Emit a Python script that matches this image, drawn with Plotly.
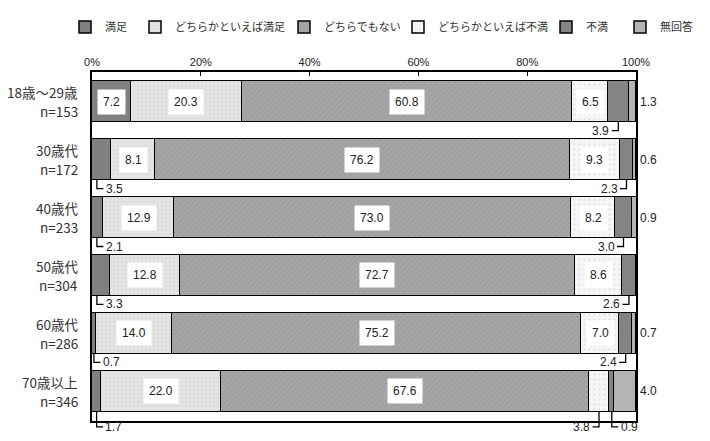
import plotly.graph_objects as go

ages = ["18歳～29歳", "30歳代", "40歳代", "50歳代", "60歳代", "70歳以上"]
counts = [153, 172, 233, 304, 286, 346]
series_names = ["満足", "どちらかといえば満足", "どちらでもない", "どちらかといえば不満", "不満", "無回答"]

satisfied = [7.2, 3.5, 2.1, 3.3, 0.7, 1.7]
somewhat_satisfied = [20.3, 8.1, 12.9, 12.8, 14.0, 22.0]
neutral = [60.8, 76.2, 73.0, 72.7, 75.2, 67.6]
somewhat_dissatisfied = [6.5, 9.3, 8.2, 8.6, 7.0, 3.8]
dissatisfied = [3.9, 2.3, 3.0, 2.6, 2.4, 0.9]
no_answer = [1.3, 0.6, 0.9, 0.0, 0.7, 4.0]

x_ticks = [0, 20, 40, 60, 80, 100]

values = [satisfied, somewhat_satisfied, neutral, somewhat_dissatisfied, dissatisfied, no_answer]

styles = [
    dict(color="#808080"),
    dict(color="#e4e4e4", pattern=dict(shape=".", fgcolor="#bdbdbd", size=4, solidity=0.15)),
    dict(color="#a6a6a6", pattern=dict(shape="/", fgcolor="#8e8e8e", size=4, solidity=0.25)),
    dict(color="#f6f6f6", pattern=dict(shape=".", fgcolor="#cccccc", size=5, solidity=0.15)),
    dict(color="#868686", pattern=dict(shape="x", fgcolor="#6c6c6c", size=3, solidity=0.2)),
    dict(color="#b7b7b7", pattern=dict(shape="+", fgcolor="#8e8e8e", size=4, solidity=0.15)),
]

# the page body has an 8px margin, so the figure is made that much smaller
BODY = 8
W, H = 710 - BODY, 441 - BODY
PLOT_L, PLOT_W = 92 - BODY, 544
PLOT_T, PLOT_H = 72 - BODY, 349

# each legend entry gets its own legend box so the spacing follows the original
legend_left_px = [57, 127, 276, 390, 538, 612]

BAR_W = 0.7
Y_LO, Y_HI = -0.51, len(ages) - 0.49

fig = go.Figure()
for k, (name, vals, st) in enumerate(zip(series_names, values, styles)):
    fig.add_trace(go.Bar(
        y=ages, x=vals, name=name, orientation="h", width=BAR_W,
        marker=dict(line=dict(color="black", width=1.5), **st),
        hoverinfo="skip", showlegend=True,
        legend="legend" if k == 0 else f"legend{k + 1}",
    ))


def py(y):
    # data y (reversed category axis) -> paper fraction
    return (Y_HI - y) / (Y_HI - Y_LO)


annos = []
shapes = []
line = dict(color="black", width=1.3)
cat_font = dict(size=13.5, family="Noto Sans CJK JP", color="#333333")
for i in range(len(ages)):
    # two-line category label, drawn as two texts for the wider line spacing
    for dy, txt in ((-0.165, ages[i]), (0.165, f"n={counts[i]}")):
        annos.append(dict(x=-0.022, y=i + dy, xref="paper", yref="y", text=txt,
                          showarrow=False, xanchor="right", yanchor="middle", font=cat_font))
    start = 0.0
    last = i == len(ages) - 1
    for j, vals in enumerate(values):
        v = vals[i]
        s, e = start, start + v
        start = e
        if v == 0:
            continue
        c = (s + e) / 2
        txt = f"{v:.1f}"
        if v >= 5:
            annos.append(dict(x=c, y=i, xref="x", yref="y", text=txt, showarrow=False,
                              bgcolor="white", borderpad=5, font=dict(size=12)))
            continue
        if j == 5:
            # outside the x range, so place it on the paper scale
            annos.append(dict(x=1.004, y=i, xref="paper", yref="y", text=txt, showarrow=False,
                              xanchor="left", font=dict(size=12)))
            continue
        y_bot = i + BAR_W / 2
        y_mid = i + (0.61 if last else 0.5)
        to_right = j == 0 or (j == 4 and somewhat_dissatisfied[i] < 5)
        hx = min(c, 0.9) if j == 0 else c
        d = 1.2 if to_right else -1.2
        shapes.append(dict(type="path", xref="x", yref="paper", line=line,
                           path=f"M {hx},{py(y_bot)} L {hx},{py(y_mid)} L {hx + d},{py(y_mid)}"))
        annos.append(dict(x=hx + d * 1.05, y=py(y_mid), xref="x", yref="paper", text=txt,
                          showarrow=False, xanchor="left" if to_right else "right",
                          yanchor="middle", font=dict(size=12)))

legend_common = dict(orientation="h", y=1.129, xanchor="left", yanchor="middle",
                     font=dict(size=11, family="Noto Sans CJK JP", color="#333333"),
                     itemwidth=30, bgcolor="rgba(0,0,0,0)", visible=True)
legends = {}
for k, px in enumerate(legend_left_px):
    key = "legend" if k == 0 else f"legend{k + 1}"
    legends[key] = dict(x=(px - PLOT_L) / PLOT_W, **legend_common)

fig.update_layout(
    barmode="stack",
    width=W, height=H,
    margin=dict(l=PLOT_L, r=W - PLOT_L - PLOT_W, t=PLOT_T, b=H - PLOT_T - PLOT_H,
                autoexpand=False),
    paper_bgcolor="white", plot_bgcolor="white",
    font=dict(family="Liberation Sans, Noto Sans CJK JP", color="#222222", size=12),
    showlegend=True,
    annotations=annos,
    shapes=shapes,
    bargap=0,
    **legends,
)
fig.update_xaxes(
    side="top", range=[0, 100], tickvals=x_ticks, ticktext=[f"{t}%" for t in x_ticks],
    showgrid=False, zeroline=False, showline=True, linecolor="black", linewidth=1.5,
    mirror=True, ticks="inside", ticklen=4, tickcolor="black", tickfont=dict(size=11),
)
fig.update_yaxes(
    range=[Y_HI, Y_LO], showgrid=False, zeroline=False, showline=True,
    linecolor="black", linewidth=1.5, mirror=True, ticks="", showticklabels=False,
)

fig.write_html("out.html")
